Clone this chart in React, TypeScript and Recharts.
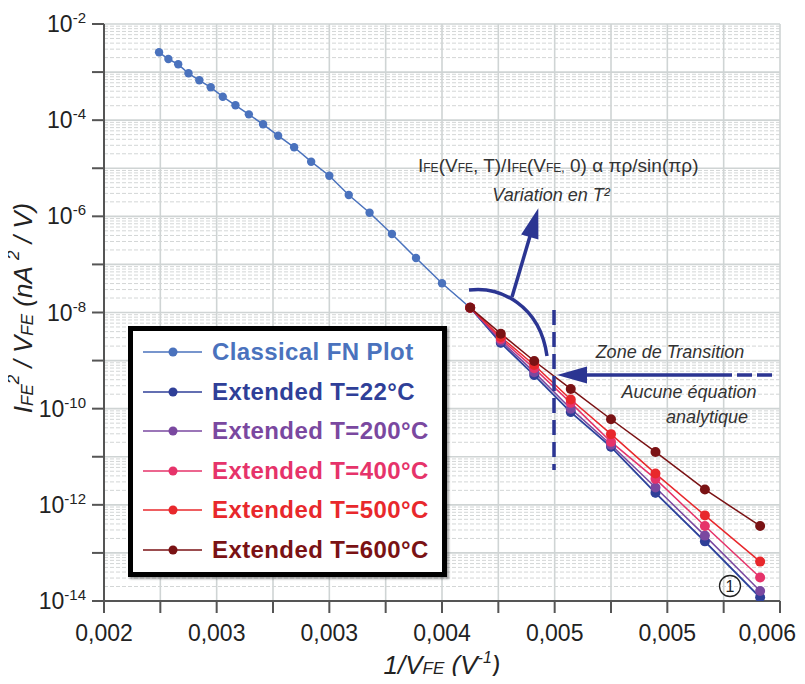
import React from 'react'
import { LineChart, Line, XAxis, YAxis, CartesianGrid, ReferenceLine } from 'recharts'

// 1/V_FE values (V^-1)
const xClassical = [
  0.0023256, 0.002381, 0.002439, 0.0025, 0.0025641, 0.0026316, 0.0027027, 0.0027778, 0.0028571,
  0.0029412, 0.0030303, 0.003125, 0.0032258, 0.0033333, 0.0034483, 0.0035714, 0.0037037, 0.0038462,
  0.004, 0.0041667, 0.0043478, 0.0045455, 0.0047619, 0.005, 0.0052632, 0.0055556, 0.0058824,
]
const yClassical = [
  2.58e-3, 1.87e-3, 1.45e-3, 9.44e-4, 6.75e-4, 4.82e-4, 3.08e-4, 2.04e-4, 1.32e-4,
  8.2e-5, 4.75e-5, 2.73e-5, 1.37e-5, 7.0e-6, 2.77e-6, 1.19e-6, 4.29e-7, 1.36e-7,
  4.05e-8, 1.26e-8, 2.3e-9, 4.9e-10, 8.3e-11, 1.58e-11, 1.74e-12, 1.7e-13, 1.15e-14,
]

const xExtended = [0.0041667, 0.0043478, 0.0045455, 0.0047619, 0.005, 0.0052632, 0.0055556, 0.0058824]
const yT22 = [1.26e-8, 2.34e-9, 5.0e-10, 8.5e-11, 1.62e-11, 1.78e-12, 1.74e-13, 1.2e-14]
const yT200 = [1.26e-8, 2.57e-9, 5.75e-10, 1.0e-10, 1.78e-11, 2.29e-12, 2.29e-13, 1.62e-14]
const yT400 = [1.26e-8, 2.82e-9, 6.9e-10, 1.32e-10, 2.04e-11, 3.47e-12, 3.63e-13, 3.09e-14]
const yT500 = [1.26e-8, 3.09e-9, 8.1e-10, 1.55e-10, 2.95e-11, 4.47e-12, 6.03e-13, 6.6e-14]
const yT600 = [1.26e-8, 3.63e-9, 9.8e-10, 2.57e-10, 6.03e-11, 1.26e-11, 2.09e-12, 3.63e-13]

const xTicks = [
  0.002, 0.0023333, 0.0026667, 0.003, 0.0033333, 0.0036667, 0.004,
  0.0043333, 0.0046667, 0.005, 0.0053333, 0.0056667, 0.006,
]
const xTickLabels = ['0,002', '', '0,003', '', '0,003', '', '0,004', '', '0,005', '', '0,005', '', '0,006']
const yExponents = [-14, -13, -12, -11, -10, -9, -8, -7, -6, -5, -4, -3, -2]
const yTicks = yExponents.map(e => Math.pow(10, e))
const minorMultipliers = [2, 3, 4, 5, 6, 7, 8, 9]

const toPoints = (xs: number[], ys: number[]) => xs.map((x, i) => ({ x, y: ys[i] }))

const series = [
  { name: 'Classical FN Plot', color: '#4a72bd', r: 4.2, data: toPoints(xClassical, yClassical) },
  { name: 'Extended T=22°C', color: '#2f3f98', r: 5, data: toPoints(xExtended, yT22) },
  { name: 'Extended T=200°C', color: '#7a48a0', r: 5, data: toPoints(xExtended, yT200) },
  { name: 'Extended T=400°C', color: '#e6336a', r: 5, data: toPoints(xExtended, yT400) },
  { name: 'Extended T=500°C', color: '#e8282c', r: 5, data: toPoints(xExtended, yT500) },
  { name: 'Extended T=600°C', color: '#7a1214', r: 5, data: toPoints(xExtended, yT600) },
]

const FONT = '"Liberation Sans", Arial, sans-serif'
const AXIS = '#555'
const ANNOT = '#2b3592'

function YTick({ x, y, payload }: any) {
  const exp = Math.round(Math.log10(payload.value))
  if (exp % 2 !== 0) return null
  return (
    <text x={x - 4} y={y + 8} textAnchor="end" fill="#222" fontSize={23} fontFamily={FONT}>
      <tspan>10</tspan>
      <tspan dy={-9} fontSize={15}>{exp}</tspan>
    </text>
  )
}

function XTick({ x, y, index }: any) {
  const label = xTickLabels[index]
  if (!label) return null
  // last label is pushed left so it stays inside the page
  const last = index === xTickLabels.length - 1
  return (
    <text
      x={last ? 796 : x} y={y + 26} textAnchor={last ? 'end' : 'middle'}
      fill="#222" fontSize={23} fontFamily={FONT}
    >
      {label}
    </text>
  )
}

function arrowHead(tx: number, ty: number, fx: number, fy: number, len: number, hw: number) {
  const dx = tx - fx
  const dy = ty - fy
  const d = Math.hypot(dx, dy)
  const ux = dx / d
  const uy = dy / d
  const bx = tx - ux * len
  const by = ty - uy * len
  return `${tx},${ty} ${bx - uy * hw},${by + ux * hw} ${bx + uy * hw},${by - ux * hw}`
}

function Legend() {
  return (
    <div
      style={{
        position: 'absolute', left: 128, top: 326, width: 309, height: 241,
        border: '5px solid #000', background: '#fff', boxShadow: '2px 2px 2px rgba(0,0,0,0.35)',
      }}
    >
      {series.map((s, i) => (
        <div key={s.name} style={{ position: 'absolute', left: 0, top: 6 + i * 39.5, height: 39, width: 309 }}>
          <svg width={70} height={39} style={{ position: 'absolute', left: 0, top: 0 }}>
            <line x1={10} x2={69} y1={15} y2={15} stroke={s.color} strokeWidth={1.5} />
            <circle cx={40} cy={15} r={4.5} fill={s.color} />
          </svg>
          <span
            style={{
              position: 'absolute', left: 79, top: 0, fontFamily: FONT, fontWeight: 'bold',
              fontSize: 24, letterSpacing: 0.4, color: s.color, whiteSpace: 'nowrap', lineHeight: '30px',
            }}
          >
            {s.name}
          </span>
        </div>
      ))}
    </div>
  )
}

function Annotations() {
  return (
    <svg width={805} height={684} style={{ position: 'absolute', left: 0, top: 0, pointerEvents: 'none' }}>
      {/* axis titles */}
      <text x={442} y={674} textAnchor="middle" fontFamily={FONT} fontStyle="italic" fontSize={26} fill="#222">
        <tspan>1/V</tspan>
        <tspan fontSize={17}>FE</tspan>
        <tspan> (V</tspan>
        <tspan fontSize={16} dy={-11}>-1</tspan>
        <tspan dy={11}>)</tspan>
      </text>
      <text
        x={25} y={308} transform="rotate(-90 25 308)" textAnchor="middle"
        fontFamily={FONT} fontStyle="italic" fontSize={26} fill="#222" dominantBaseline="middle"
      >
        <tspan>I</tspan>
        <tspan fontSize={17} dy={4}>FE</tspan>
        <tspan fontSize={17} dy={-14}>2</tspan>
        <tspan dy={10}> / V</tspan>
        <tspan fontSize={17} dy={4}>FE</tspan>
        <tspan dy={-4}> (nA </tspan>
        <tspan fontSize={17} dy={-10}>2</tspan>
        <tspan dy={10}> / V)</tspan>
      </text>

      {/* formula */}
      <text x={418} y={172} fontFamily={FONT} fontSize={19} fill="#333">
        <tspan>I</tspan><tspan fontSize={12}>FE</tspan><tspan>(V</tspan><tspan fontSize={12}>FE</tspan>
        <tspan>, T)/I</tspan><tspan fontSize={12}>FE</tspan><tspan>(V</tspan><tspan fontSize={12}>FE,</tspan>
        <tspan> 0) α πρ/sin(πρ)</tspan>
      </text>
      <text x={551} y={201} textAnchor="middle" fontFamily={FONT} fontStyle="italic" fontSize={18} fill="#333">
        Variation en T²
      </text>

      {/* arc and arrow up */}
      <path d="M469,290 C500,286 540,305 547,356" fill="none" stroke={ANNOT} strokeWidth={3.5} />
      <line x1={512} y1={297} x2={533} y2={226} stroke={ANNOT} strokeWidth={3.5} />
      <polygon points={arrowHead(538.3, 208.3, 512, 297, 30, 9)} fill={ANNOT} />

      {/* transition zone */}
      <line x1={554} y1={310} x2={554} y2={470} stroke={ANNOT} strokeWidth={3.5} strokeDasharray="15 7" />
      <line x1={583} y1={375} x2={732} y2={375} stroke={ANNOT} strokeWidth={3.5} />
      <line x1={737} y1={375} x2={773} y2={375} stroke={ANNOT} strokeWidth={3.5} strokeDasharray="15 5" />
      <polygon points={arrowHead(557, 375, 700, 375, 30, 8.5)} fill={ANNOT} />
      <text x={670} y={358} textAnchor="middle" fontFamily={FONT} fontStyle="italic" fontSize={18} fill="#333">
        Zone de Transition
      </text>
      <text x={689} y={398} textAnchor="middle" fontFamily={FONT} fontStyle="italic" fontSize={18} fill="#333">
        Aucune équation
      </text>
      <text x={707} y={423} textAnchor="middle" fontFamily={FONT} fontStyle="italic" fontSize={18} fill="#333">
        analytique
      </text>

      {/* circled 1 */}
      <circle cx={730} cy={586} r={10.5} fill="none" stroke="#222" strokeWidth={1.3} />
      <text x={730} y={592} textAnchor="middle" fontFamily={FONT} fontSize={16} fill="#222">1</text>
    </svg>
  )
}

export default function App() {
  const minorLines: number[] = []
  yExponents.slice(0, -1).forEach(e => minorMultipliers.forEach(m => minorLines.push(m * Math.pow(10, e))))

  return (
    <div style={{ position: 'relative', width: 805, height: 684, margin: -8, background: '#fff', overflow: 'hidden' }}>
      <LineChart width={805} height={684} margin={{ top: 24, right: 25, bottom: 0, left: 0 }}>
        {minorLines.map(v => (
          <ReferenceLine key={v} y={v} stroke="#d3d6d6" strokeWidth={1} strokeDasharray="4 2" />
        ))}
        <CartesianGrid stroke="#cfd4d4" strokeWidth={1.6} />
        <XAxis
          dataKey="x" type="number" domain={[0.002, 0.006]} ticks={xTicks} allowDataOverflow
          height={83} tickSize={12} tick={<XTick />} interval={0}
          axisLine={{ stroke: AXIS, strokeWidth: 2 }} tickLine={{ stroke: AXIS, strokeWidth: 2 }}
        />
        <XAxis
          xAxisId="top" orientation="top" type="number" domain={[0.002, 0.006]} ticks={xTicks}
          allowDataOverflow height={0} tickSize={12} tick={false}
          axisLine={{ stroke: AXIS, strokeWidth: 2 }} tickLine={{ stroke: AXIS, strokeWidth: 2 }}
        />
        <YAxis
          type="number" scale="log" domain={[1e-14, 1e-2]} ticks={yTicks} allowDataOverflow
          width={104} tickSize={12} tick={<YTick />} interval={0}
          axisLine={{ stroke: AXIS, strokeWidth: 2 }} tickLine={{ stroke: AXIS, strokeWidth: 2 }}
        />
        <YAxis
          yAxisId="right" orientation="right" type="number" scale="log" domain={[1e-14, 1e-2]}
          ticks={yTicks} allowDataOverflow width={0} tickSize={12} tick={false}
          axisLine={{ stroke: AXIS, strokeWidth: 2 }} tickLine={{ stroke: AXIS, strokeWidth: 2 }}
        />
        {series.map(s => (
          <Line
            key={s.name} data={s.data} dataKey="y" name={s.name} stroke={s.color} strokeWidth={1.5}
            dot={{ r: s.r, fill: s.color, stroke: s.color, strokeWidth: 0 }}
            isAnimationActive={false}
          />
        ))}
      </LineChart>
      <Legend />
      <Annotations />
    </div>
  )
}
